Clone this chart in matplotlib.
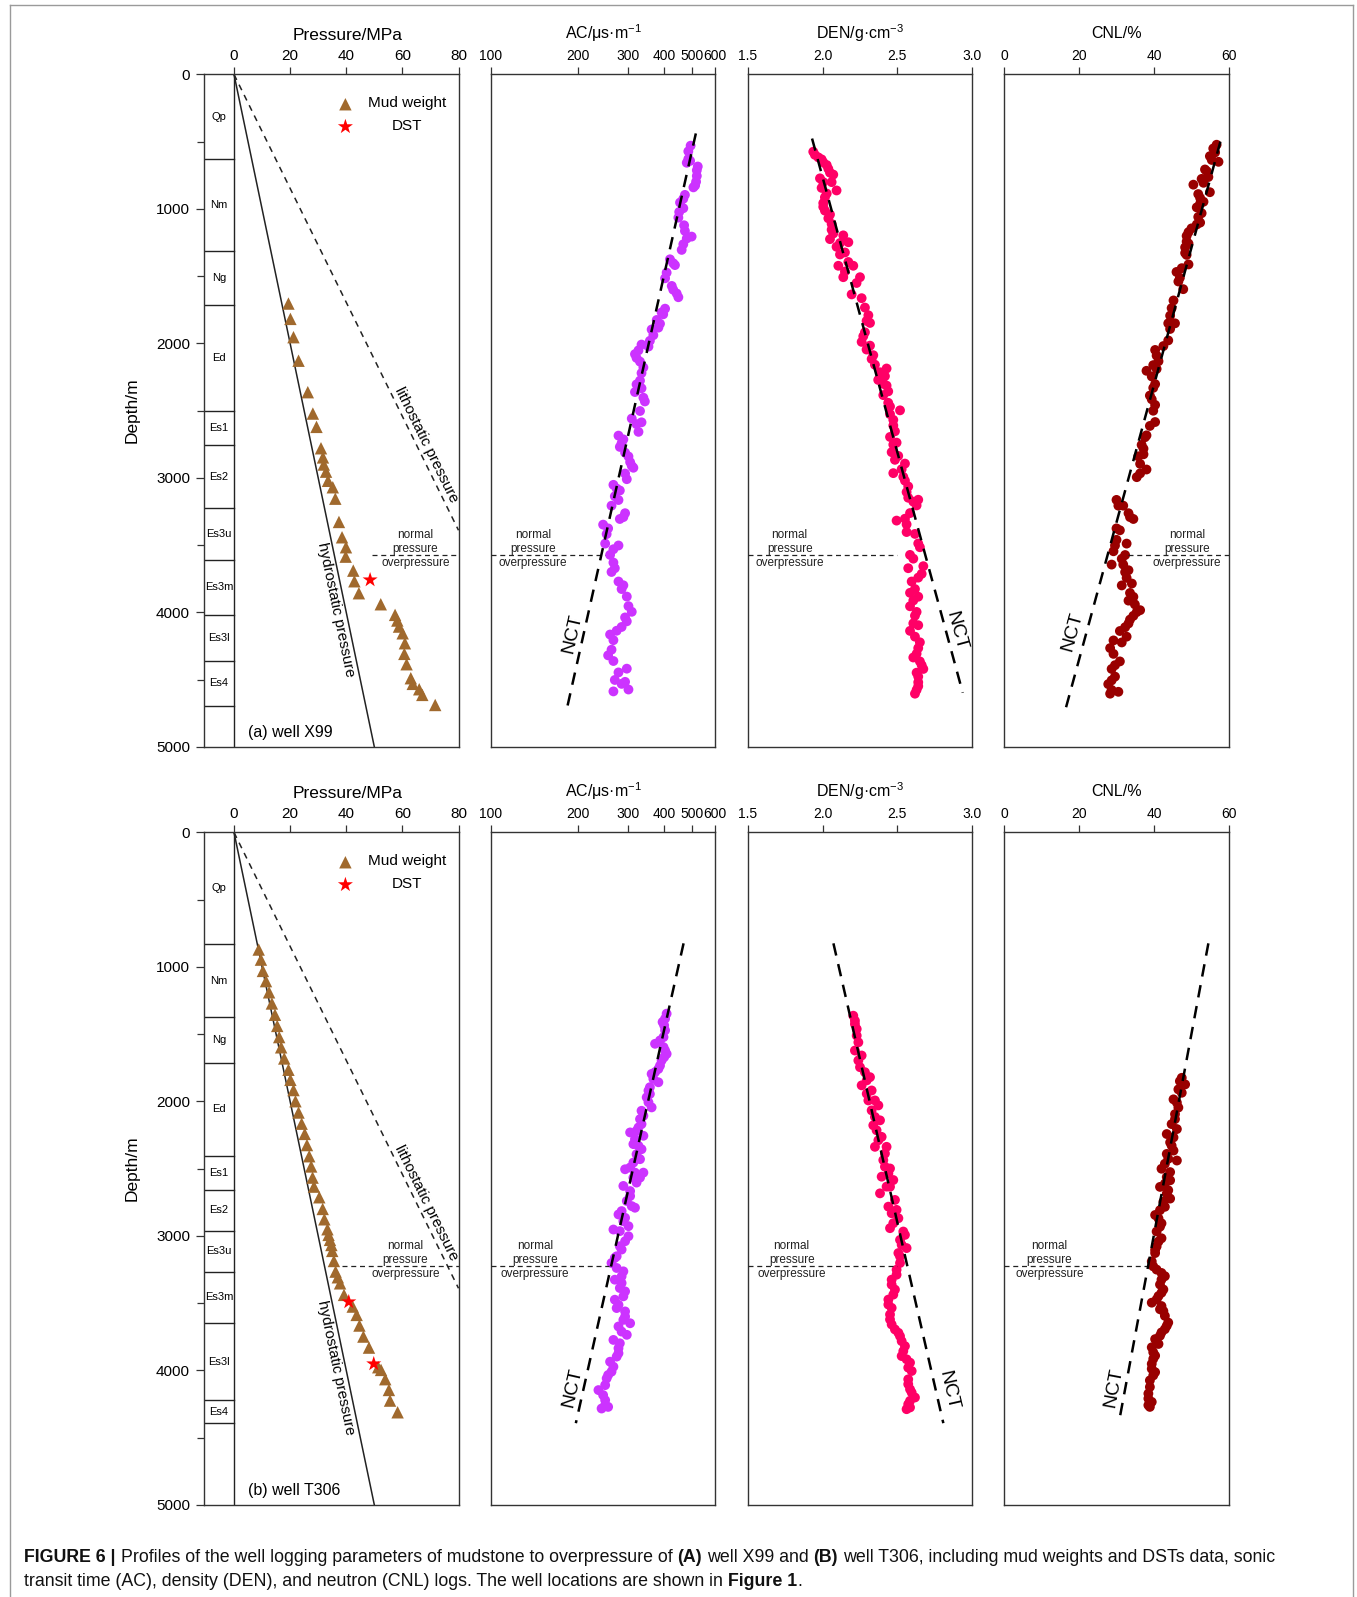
import math
import matplotlib
matplotlib.use("Agg")
import matplotlib.pyplot as plt
from matplotlib.lines import Line2D
from matplotlib import font_manager

W, H = 1357, 1597
plt.rcParams['font.family'] = ['Liberation Sans', 'DejaVu Sans']
plt.rcParams['mathtext.fontset'] = 'custom'
plt.rcParams['mathtext.rm'] = 'Liberation Sans'
_names = {f.name for f in font_manager.fontManager.ttflist}
NARROW = ['Liberation Sans Narrow', 'Liberation Sans', 'DejaVu Sans'] if 'Liberation Sans Narrow' in _names else None

# ---------------- data ----------------
strata_names = ["Qp", "Nm", "Ng", "Ed", "Es1", "Es2", "Es3u", "Es3m", "Es3l", "Es4"]
top_strata_base = [631, 1313, 1712, 2500, 2758, 3226, 3610, 4019, 4359, 4693]
bot_strata_base = [833, 1371, 1712, 2409, 2659, 2961, 3266, 3650, 4220, 4393]

pressure_ticks = [0, 20, 40, 60, 80]
depth_ticks = [0, 1000, 2000, 3000, 4000, 5000]
ac_ticks = [100, 200, 300, 400, 500, 600]
den_ticks = [1.5, 2.0, 2.5, 3.0]
den_ticklabels = ["1.5", "2.0", "2.5", "3.0"]
cnl_ticks = [0, 20, 40, 60]

hydro_pressure = [0, 50]
hydro_depth = [0, 5000]
litho_pressure = [0, 80]
litho_depth = [0, 3390]

top_mud_depth = [1704, 1818, 1954, 2129, 2363, 2522, 2621, 2780, 2848, 2901, 2954, 3022, 3070, 3155,
                 3328, 3442, 3516, 3586, 3690, 3769, 3858, 3940, 4019, 4061, 4106, 4156, 4230, 4309,
                 4386, 4490, 4532, 4572, 4614, 4689]
top_mud_pressure = [19.4, 20.1, 21.2, 23.0, 26.3, 28.1, 29.4, 31.0, 31.7, 32.0, 32.8, 33.5, 35.2, 36.1,
                    37.4, 38.5, 39.9, 39.8, 42.5, 42.9, 44.5, 52.3, 57.4, 58.2, 58.8, 60.1, 60.9, 60.7,
                    61.5, 63.0, 63.7, 66.0, 67.1, 71.7]
top_dst_depth = [3759]
top_dst_pressure = [48.5]

bot_mud_depth = [871, 946, 1030, 1106, 1189, 1272, 1356, 1439, 1522, 1598, 1681, 1765, 1840, 1916,
                 1999, 2083, 2166, 2242, 2325, 2408, 2484, 2567, 2634, 2713, 2800, 2877, 2951, 2993,
                 3030, 3068, 3112, 3187, 3266, 3308, 3353, 3439, 3526, 3588, 3667, 3749, 3831, 3977,
                 3997, 4066, 4146, 4225, 4312]
bot_mud_pressure = [8.8, 9.6, 10.3, 11.4, 12.5, 13.5, 14.6, 15.4, 16.1, 16.8, 17.9, 19.4, 20.1, 21.2,
                    21.9, 23.0, 24.1, 25.2, 26.0, 26.8, 27.5, 28.0, 28.5, 30.4, 31.6, 32.2, 33.3, 33.7,
                    34.2, 34.7, 35.0, 35.6, 36.2, 37.0, 37.8, 39.2, 42.3, 43.7, 44.7, 46.1, 48.1, 51.4,
                    52.4, 53.9, 55.2, 55.6, 58.3]
bot_dst_depth = [3491, 3952]
bot_dst_pressure = [40.9, 49.8]

top_ac_depth = [530, 629, 643, 685, 755, 826, 896, 925, 953, 1065, 1122, 1206, 1220, 1305, 1375, 1418,
                1516, 1601, 1657, 1742, 1770, 1826, 1883, 1897, 1981, 2009, 2080, 2136, 2179, 2305,
                2334, 2362, 2432, 2559, 2587, 2658, 2686, 2742, 2813, 2883, 2925, 3010, 3052, 3094,
                3165, 3207, 3263, 3306, 3348, 3418, 3489, 3503, 3573, 3630, 3700, 3771, 3827, 3883,
                3996, 4038, 4109, 4165, 4207, 4320, 4362, 4419, 4503, 4517, 4588, 4574,
                572, 657, 713, 798, 840, 995, 1023, 1164, 1263, 1404, 1474, 1573, 1629, 1784, 1854,
                1939, 2024, 2052, 2108, 2221, 2277, 2404, 2503, 2601, 2714, 2770, 2841, 2911, 2968,
                3080, 3137, 3292, 3376, 3531, 3672, 3799, 3954, 4067, 4137, 4278, 4447, 4532]
top_ac = [493, 484, 491, 522, 518, 511, 471, 465, 453, 447, 468, 497, 478, 459, 418, 435, 402, 429, 447,
          402, 391, 376, 381, 361, 356, 333, 316, 329, 338, 320, 333, 316, 342, 308, 333, 325, 277, 284,
          292, 304, 312, 296, 266, 280, 277, 262, 292, 280, 245, 252, 249, 277, 259, 266, 262, 277, 284,
          296, 308, 292, 284, 259, 266, 255, 266, 296, 269, 292, 266, 300,
          484, 478, 518, 515, 504, 465, 450, 471, 465, 429, 407, 424, 441, 396, 386, 366, 352, 325,
          320, 333, 329, 338, 329, 320, 288, 280, 300, 308, 292, 273, 269, 288, 255, 266, 269, 288,
          300, 296, 273, 262, 277, 284]

top_den_depth = [575, 617, 632, 674, 731, 773, 801, 844, 863, 914, 957, 1013, 1042, 1112, 1155, 1197,
                 1248, 1225, 1282, 1339, 1423, 1423, 1466, 1508, 1508, 1636, 1664, 1791, 1848, 1918,
                 1989, 2046, 2088, 2159, 2187, 2244, 2272, 2314, 2385, 2442, 2498, 2526, 2611, 2696,
                 2738, 2809, 2866, 2894, 2965, 2993, 3064, 3148, 3163, 3205, 3262, 3318, 3346, 3403,
                 3488, 3573, 3657, 3672, 3714, 3771, 3855, 3884, 3955, 4025, 4096, 4138, 4223, 4308,
                 4336, 4393, 4421, 4478, 4549, 4605,
                 598, 654, 702, 745, 801, 886, 985, 1070, 1183, 1254, 1324, 1395, 1551, 1734, 1833,
                 1947, 2017, 2116, 2215, 2300, 2357, 2470, 2569, 2654, 2753, 2837, 2936, 3021, 3106,
                 3177, 3304, 3417, 3516, 3601, 3742, 3827, 3912, 3997, 4082, 4181, 4266, 4365, 4449,
                 4520, 4577]
top_den = [1.937, 1.971, 1.993, 2.027, 2.049, 1.982, 2.060, 1.993, 2.093, 2.015, 2.004, 2.015, 2.049,
           2.060, 2.060, 2.138, 2.172, 2.049, 2.093, 2.116, 2.105, 2.205, 2.149, 2.250, 2.138, 2.194,
           2.261, 2.306, 2.317, 2.283, 2.261, 2.294, 2.339, 2.350, 2.428, 2.417, 2.372, 2.428, 2.406,
           2.439, 2.518, 2.451, 2.473, 2.451, 2.495, 2.462, 2.484, 2.551, 2.473, 2.540, 2.573, 2.573,
           2.640, 2.629, 2.585, 2.495, 2.562, 2.562, 2.640, 2.585, 2.674, 2.573, 2.663, 2.596, 2.585,
           2.640, 2.585, 2.618, 2.640, 2.585, 2.651, 2.629, 2.607, 2.663, 2.674, 2.640, 2.640, 2.618,
           1.948, 2.004, 2.038, 2.071, 2.004, 2.027, 2.004, 2.038, 2.071, 2.116, 2.149, 2.172, 2.227,
           2.283, 2.294, 2.272, 2.317, 2.328, 2.384, 2.406, 2.439, 2.451, 2.473, 2.484, 2.473, 2.506,
           2.529, 2.551, 2.562, 2.607, 2.551, 2.618, 2.651, 2.607, 2.640, 2.618, 2.607, 2.629, 2.607,
           2.618, 2.640, 2.651, 2.629, 2.640, 2.629]

top_cnl_depth = [523, 580, 636, 650, 707, 763, 777, 820, 876, 919, 947, 989, 1032, 1102, 1116, 1201,
                 1258, 1286, 1342, 1413, 1469, 1512, 1597, 1738, 1851, 1851, 1978, 2049, 2133, 2204,
                 2190, 2303, 2388, 2458, 2585, 2684, 2755, 2825, 2896, 2938, 2995, 3164, 3207, 3263,
                 3306, 3376, 3461, 3489, 3546, 3602, 3645, 3701, 3744, 3800, 3856, 3913, 3984, 4026,
                 4083, 4139, 4181, 4209, 4266, 4365, 4421, 4478, 4534, 4591, 4605,
                 551, 608, 721, 806, 890, 961, 1060, 1145, 1173, 1243, 1328, 1441, 1540, 1681, 1794,
                 1893, 2020, 2091, 2162, 2246, 2331, 2416, 2501, 2614, 2698, 2783, 2840, 2967, 3207,
                 3292, 3390, 3503, 3574, 3645, 3687, 3786, 3885, 3941, 3998, 4054, 4111, 4224, 4309,
                 4393, 4506, 4577]
top_cnl = [56.7, 56.3, 55.4, 57.2, 53.6, 54.5, 52.7, 50.5, 54.9, 52.3, 53.2, 51.4, 52.7, 52.3, 51.4,
           48.7, 49.2, 48.3, 48.7, 49.2, 46.0, 46.9, 47.8, 44.7, 43.8, 45.6, 43.8, 40.3, 41.2, 38.0,
           40.7, 40.3, 38.9, 40.3, 40.3, 38.0, 36.7, 37.2, 36.3, 38.0, 35.4, 30.0, 31.8, 33.2, 34.5,
           30.0, 30.0, 32.7, 29.2, 31.4, 28.7, 32.3, 32.7, 31.4, 33.6, 33.2, 36.3, 34.5, 33.2, 30.9,
           32.7, 29.2, 28.3, 30.9, 28.7, 29.6, 27.8, 30.5, 28.3,
           55.8, 54.9, 54.1, 53.2, 51.8, 52.3, 51.8, 50.0, 49.2, 48.7, 48.3, 47.4, 46.5, 45.2, 44.3,
           44.3, 42.5, 40.7, 39.8, 39.4, 39.8, 39.4, 39.8, 38.9, 37.6, 37.2, 35.8, 36.3, 30.5, 33.6,
           30.9, 29.6, 32.3, 31.8, 33.2, 34.1, 34.5, 34.9, 35.4, 33.6, 32.3, 31.4, 29.2, 29.6, 28.7,
           28.7]

bot_ac_depth = [1348, 1410, 1472, 1522, 1572, 1622, 1647, 1696, 1759, 1796, 1858, 1920, 1970, 2045,
                2070, 2132, 2194, 2231, 2256, 2318, 2356, 2430, 2505, 2530, 2530, 2604, 2629, 2704,
                2779, 2791, 2841, 2891, 2928, 2953, 3003, 3102, 3152, 3202, 3264, 3326, 3351, 3413,
                3475, 3537, 3600, 3650, 3674, 3736, 3774, 3799, 3873, 3936, 4010, 4060, 4147, 4222,
                4272, 4284,
                1385, 1435, 1547, 1597, 1671, 1734, 1783, 1833, 1895, 1945, 2007, 2107, 2169, 2219,
                2281, 2331, 2393, 2455, 2492, 2567, 2567, 2667, 2741, 2816, 2866, 2965, 3040, 3077,
                3164, 3239, 3301, 3388, 3450, 3513, 3562, 3625, 3712, 3836, 3898, 3973, 4035, 4110,
                4184, 4259]
bot_ac = [407, 394, 402, 397, 371, 402, 407, 391, 381, 361, 381, 352, 347, 361, 333, 329, 325, 304, 338,
          312, 333, 329, 292, 316, 338, 320, 288, 304, 308, 316, 277, 288, 300, 266, 300, 284, 273, 262,
          288, 269, 284, 292, 269, 273, 292, 304, 277, 296, 266, 280, 277, 259, 262, 252, 236, 249, 255,
          242,
          402, 399, 386, 397, 399, 386, 371, 366, 356, 356, 352, 338, 333, 320, 316, 325, 320, 312,
          304, 312, 329, 304, 296, 284, 292, 280, 292, 280, 269, 273, 284, 280, 288, 277, 292, 288,
          284, 277, 273, 266, 255, 249, 245, 249]

bot_den_depth = [1363, 1425, 1511, 1622, 1659, 1746, 1820, 1881, 1919, 1993, 2030, 2067, 2141, 2178,
                 2264, 2338, 2338, 2437, 2499, 2560, 2585, 2634, 2684, 2783, 2832, 2869, 2943, 2993,
                 3030, 3091, 3128, 3202, 3252, 3326, 3400, 3474, 3536, 3622, 3696, 3746, 3820, 3894,
                 3943, 4005, 4067, 4141, 4202, 4252, 4289,
                 1400, 1462, 1561, 1696, 1783, 1844, 1943, 1993, 2116, 2215, 2289, 2388, 2486, 2536,
                 2635, 2733, 2807, 2906, 2968, 3067, 3153, 3289, 3363, 3437, 3511, 3585, 3659, 3721,
                 3783, 3857, 3918, 3980, 4103, 4165, 4227, 4276]
bot_den = [2.205, 2.216, 2.228, 2.216, 2.261, 2.250, 2.317, 2.261, 2.328, 2.306, 2.373, 2.328, 2.384,
           2.339, 2.395, 2.350, 2.428, 2.406, 2.451, 2.395, 2.473, 2.428, 2.384, 2.440, 2.462, 2.507,
           2.451, 2.551, 2.518, 2.562, 2.507, 2.518, 2.495, 2.462, 2.484, 2.440, 2.462, 2.451, 2.484,
           2.518, 2.551, 2.529, 2.585, 2.596, 2.573, 2.585, 2.618, 2.573, 2.562,
           2.216, 2.228, 2.239, 2.239, 2.283, 2.295, 2.295, 2.350, 2.350, 2.361, 2.373, 2.417, 2.417,
           2.440, 2.451, 2.484, 2.495, 2.473, 2.540, 2.529, 2.518, 2.495, 2.462, 2.473, 2.440, 2.451,
           2.462, 2.507, 2.529, 2.540, 2.562, 2.573, 2.573, 2.596, 2.585, 2.585]

bot_cnl_depth = [1825, 1874, 1911, 1985, 2046, 2095, 2169, 2206, 2243, 2305, 2366, 2391, 2440, 2501,
                 2526, 2587, 2636, 2686, 2723, 2784, 2845, 2907, 2968, 3018, 3079, 3128, 3190, 3251,
                 3300, 3362, 3399, 3448, 3497, 3546, 3559, 3645, 3694, 3743, 3768, 3829, 3891, 3952,
                 4014, 4075, 4173, 4235, 4272,
                 1850, 1936, 2009, 2132, 2268, 2329, 2427, 2464, 2563, 2612, 2661, 2747, 2809, 2870,
                 2932, 3042, 3104, 3227, 3276, 3325, 3423, 3473, 3522, 3595, 3669, 3718, 3804, 3866,
                 3915, 3989, 4038, 4124, 4210, 4259]
bot_cnl = [47.4, 48.3, 46.5, 45.2, 46.5, 45.6, 44.7, 46.1, 43.4, 44.3, 45.2, 43.4, 46.1, 42.0, 44.3,
           44.3, 41.6, 43.4, 44.3, 42.9, 40.3, 42.0, 40.7, 42.0, 40.7, 40.3, 39.4, 40.7, 42.9, 41.6,
           42.5, 41.2, 39.4, 41.6, 42.5, 43.8, 42.9, 41.6, 40.3, 39.4, 40.3, 39.4, 40.3, 38.9, 38.5,
           39.4, 38.9,
           46.9, 47.4, 46.1, 45.6, 45.2, 44.7, 43.8, 42.9, 43.4, 42.9, 43.8, 42.5, 41.6, 41.2, 41.6,
           41.2, 40.3, 39.8, 42.0, 42.0, 42.0, 40.7, 42.0, 42.9, 43.4, 42.0, 41.2, 39.8, 39.8, 39.4,
           39.8, 38.9, 38.5, 38.5]

# normal compaction trends (depth endpoints, value endpoints)
top_ac_nct = ([439, 4703], [514, 184])
top_den_nct = ([477, 4598], [1.929, 2.938])
top_cnl_nct = ([500, 4711], [57.7, 16.5])
bot_ac_nct = ([825, 4393], [466, 197])
bot_den_nct = ([825, 4393], [2.072, 2.808])
bot_cnl_nct = ([825, 4393], [54.5, 30.6])

# normal / overpressure boundary depth and dashed spans
top_op_depth = 3575
bot_op_depth = 3227
top_op_spans = {"P": (49, 80), "AC": (100, 248), "DEN": (1.5, 2.5), "CNL": (33, 60)}
bot_op_spans = {"P": (38.4, 80), "AC": (100, 256), "DEN": (1.5, 2.5), "CNL": (0, 38)}
top_op_text_x = {"P": 64.7, "AC": 140, "DEN": 1.779, "CNL": 48.8}
bot_op_text_x = {"P": 61.1, "AC": 142, "DEN": 1.792, "CNL": 12.1}

top_nct_label = {"AC": (192, 4158), "DEN": (2.89, 4143), "CNL": (18.1, 4143)}
bot_nct_label = {"AC": (192, 4128), "DEN": (2.843, 4151), "CNL": (29.2, 4128)}

# ---------------- styling ----------------
C_AC = '#cc33ff'
C_DEN = '#ff0066'
C_CNL = '#990000'
C_MUD = '#a0692d'
C_DST = '#ff0000'
SPINE = '#333333'
DOT = 50

fig = plt.figure(figsize=(W / 100, H / 100), dpi=100)


def rect(x0, y0, x1, y1):
    return [x0 / W, 1 - y1 / H, (x1 - x0) / W, (y1 - y0) / H]


def style_axes(ax):
    for s in ax.spines.values():
        s.set_color(SPINE)
        s.set_linewidth(1.0)
    ax.tick_params(axis='both', which='both', direction='out', color=SPINE, width=0.9)
    ax.tick_params(axis='x', which='major', length=5, labelsize=11, pad=3)


def line_angle(ax, xs, ys):
    p = ax.transData.transform(list(zip(xs, ys)))
    dx, dy = p[1][0] - p[0][0], p[1][1] - p[0][1]
    if dx < 0:
        dx, dy = -dx, -dy
    return math.degrees(math.atan2(dy, dx))


def op_texts(ax, x, d0, size=8.5):
    for txt, off in (("normal", -152), ("pressure", -48), ("overpressure", 58)):
        ax.text(x, d0 + off, txt, ha='center', va='center', fontsize=size, color='#222222')


def pressure_panel(y0, y1, bases, mud_d, mud_p, dst_d, dst_p, op_depth, op_span, op_x, well_label,
                   title_y):
    ax = fig.add_axes(rect(204, y0, 458.5, y1))
    style_axes(ax)
    xl = -10.69
    ax.set_xlim(xl, 80)
    ax.set_ylim(5000, 0)
    ax.xaxis.set_ticks_position('top')
    ax.set_xticks(pressure_ticks)
    ax.set_xticklabels([str(v) for v in pressure_ticks])
    ax.set_yticks(depth_ticks)
    ax.set_yticklabels([str(v) for v in depth_ticks])
    ax.set_yticks([500, 1500, 2500, 3500, 4500], minor=True)
    ax.tick_params(axis='y', which='major', length=6, labelsize=11, pad=4)
    ax.tick_params(axis='y', which='minor', length=5)
    ax.set_ylabel("Depth/m", fontsize=12.5, labelpad=12)
    # strata column
    ax.plot([0, 0], [0, 5000], color='#222222', lw=1.0)
    prev = 0
    for name, b in zip(strata_names, bases):
        ax.plot([xl, 0], [b, b], color='#222222', lw=1.0)
        ax.text(xl / 2, (prev + b) / 2, name, ha='center', va='center', fontsize=8)
        prev = b
    # pressure lines
    ax.plot(hydro_pressure, hydro_depth, color='#222222', lw=1.1)
    ax.plot(litho_pressure, litho_depth, color='#222222', lw=1.1, linestyle=(0, (4, 3.5)))
    a1 = line_angle(ax, hydro_pressure, hydro_depth)
    ax.text(36.4, 3980, "hydrostatic pressure", rotation=a1, rotation_mode='anchor',
            ha='center', va='center', fontsize=11)
    a2 = line_angle(ax, litho_pressure, litho_depth)
    ax.text(68.4, 2755, "lithostatic pressure", rotation=a2, rotation_mode='anchor',
            ha='center', va='center', fontsize=11)
    # data
    ax.scatter(mud_p, mud_d, marker='^', s=80, color=C_MUD, edgecolors='none', zorder=4)
    ax.scatter(dst_p, dst_d, marker='*', s=130, color=C_DST, edgecolors='none', zorder=5)
    # legend
    ax.scatter([39.7], [222], marker='^', s=80, color=C_MUD, edgecolors='none')
    ax.scatter([39.7], [389], marker='*', s=130, color=C_DST, edgecolors='none')
    ax.text(61.7, 215, "Mud weight", ha='center', va='center', fontsize=11)
    ax.text(61.7, 385, "DST", ha='center', va='center', fontsize=11)
    # overpressure boundary
    ax.plot(op_span, [op_depth, op_depth], color='#222222', lw=0.9, linestyle=(0, (4, 3)))
    op_texts(ax, op_x, op_depth)
    ax.text(4.9, 4893, well_label, ha='left', va='center', fontsize=11.5)
    fig.text((204 + 458.5) / 2 / W + 0.012, 1 - title_y / H, "Pressure/MPa", ha='center',
             va='center', fontsize=12.5)
    return ax


def log_panel(x0, x1, y0, y1, kind, depth, vals, color, nct, op_depth, op_span, op_x, nct_lab,
              title, title_y):
    ax = fig.add_axes(rect(x0, y0, x1, y1))
    style_axes(ax)
    fam = NARROW if NARROW else None
    tsize = 11.5 if NARROW else 10
    if kind == "AC":
        ax.set_xscale('log')
        ax.set_xlim(100, 600)
        ax.set_xticks(ac_ticks)
        ax.set_xticklabels([str(v) for v in ac_ticks])
        ax.xaxis.set_minor_locator(matplotlib.ticker.NullLocator())
    elif kind == "DEN":
        ax.set_xlim(1.5, 3.0)
        ax.set_xticks(den_ticks)
        ax.set_xticklabels(den_ticklabels)
    else:
        ax.set_xlim(0, 60)
        ax.set_xticks(cnl_ticks)
        ax.set_xticklabels([str(v) for v in cnl_ticks])
    ax.set_ylim(5000, 0)
    ax.set_yticks([])
    ax.xaxis.set_ticks_position('top')
    for lab in ax.get_xticklabels():
        lab.set_fontsize(tsize)
        if fam:
            lab.set_family(fam)
    ax.scatter(vals, depth, s=DOT, color=color, edgecolors='none', zorder=3)
    nd, nv = nct
    ax.plot(nv, nd, color='black', lw=1.8, linestyle=(0, (5, 3.5)), zorder=5)
    ang = line_angle(ax, nv, nd)
    ax.text(nct_lab[0], nct_lab[1], "NCT", rotation=ang, rotation_mode='anchor', ha='center',
            va='center', fontsize=14, zorder=6)
    ax.plot(op_span, [op_depth, op_depth], color='#222222', lw=0.9, linestyle=(0, (4, 3)), zorder=4)
    op_texts(ax, op_x, op_depth)
    kw = dict(ha='center', va='center', fontsize=12.5 if NARROW else 11.5)
    if fam:
        kw['family'] = fam
    fig.text((x0 + x1) / 2 / W, 1 - title_y / H, title, **kw)
    return ax


titles = {"AC": r"AC/μs·m$^{\mathregular{-1}}$", "DEN": r"DEN/g·cm$^{\mathregular{-3}}$",
          "CNL": "CNL/%"}
cols = {"AC": (491, 715.2), "DEN": (748, 972), "CNL": (1004, 1229)}
colors = {"AC": C_AC, "DEN": C_DEN, "CNL": C_CNL}

# top row (well X99)
T0, T1 = 74.4, 746.8
pressure_panel(T0, T1, top_strata_base, top_mud_depth, top_mud_pressure, top_dst_depth,
               top_dst_pressure, top_op_depth, top_op_spans["P"], top_op_text_x["P"],
               "(a) well X99", 36)
top_series = {"AC": (top_ac_depth, top_ac, top_ac_nct), "DEN": (top_den_depth, top_den, top_den_nct),
              "CNL": (top_cnl_depth, top_cnl, top_cnl_nct)}
for k in ("AC", "DEN", "CNL"):
    d, v, n = top_series[k]
    log_panel(cols[k][0], cols[k][1], T0, T1, k, d, v, colors[k], n, top_op_depth, top_op_spans[k],
              top_op_text_x[k], top_nct_label[k], titles[k], 33)

# bottom row (well T306)
B0, B1 = 832.4, 1504.8
pressure_panel(B0, B1, bot_strata_base, bot_mud_depth, bot_mud_pressure, bot_dst_depth,
               bot_dst_pressure, bot_op_depth, bot_op_spans["P"], bot_op_text_x["P"],
               "(b) well T306", 794)
bot_series = {"AC": (bot_ac_depth, bot_ac, bot_ac_nct), "DEN": (bot_den_depth, bot_den, bot_den_nct),
              "CNL": (bot_cnl_depth, bot_cnl, bot_cnl_nct)}
for k in ("AC", "DEN", "CNL"):
    d, v, n = bot_series[k]
    log_panel(cols[k][0], cols[k][1], B0, B1, k, d, v, colors[k], n, bot_op_depth, bot_op_spans[k],
              bot_op_text_x[k], bot_nct_label[k], titles[k], 791)

# outer frame
fc = '#9a9a9a'
fig.add_artist(Line2D([10 / W, 10 / W], [0, 1 - 5 / H], transform=fig.transFigure, color=fc, lw=1))
fig.add_artist(Line2D([10 / W, 1353 / W], [1 - 5 / H, 1 - 5 / H], transform=fig.transFigure, color=fc, lw=1))
fig.add_artist(Line2D([1353 / W, 1353 / W], [0, 1 - 5 / H], transform=fig.transFigure, color=fc, lw=1))

# caption
line1 = [("FIGURE 6 |", True, False), ("Profiles of the well logging parameters of mudstone to overpressure of", False, True),
         ("(A)", True, True), ("well X99 and", False, True), ("(B)", True, True),
         ("well T306, including mud weights and DSTs data, sonic", False, True)]
line2 = [("transit time (AC), density (DEN), and neutron (CNL) logs. The well locations are shown in", False, False),
         ("Figure 1", True, True), (".", False, False)]

renderer = fig.canvas.get_renderer()


def text_w(s, size, bold):
    t = fig.text(0, 0, s, fontsize=size, fontweight='bold' if bold else 'normal')
    w = t.get_window_extent(renderer).width
    t.remove()
    return w


def draw_line(pieces, x, ybase, size, draw=True):
    sp = text_w("a a", size, False) - text_w("aa", size, False)
    for s, bold, gap in pieces:
        if gap:
            x += sp
        if draw:
            fig.text(x / W, 1 - ybase / H, s, fontsize=size, fontweight='bold' if bold else 'normal',
                     va='baseline', ha='left', color='#111111')
        x += text_w(s, size, bold)
    return x


probe = 12.0
end = draw_line(line1, 24.5, 0, probe, draw=False)
size = probe * (1281 - 24.5) / (end - 24.5)
draw_line(line1, 24.5, 1562, size)
draw_line(line2, 24.5, 1586, size)

fig.savefig("out.png", dpi=100)
